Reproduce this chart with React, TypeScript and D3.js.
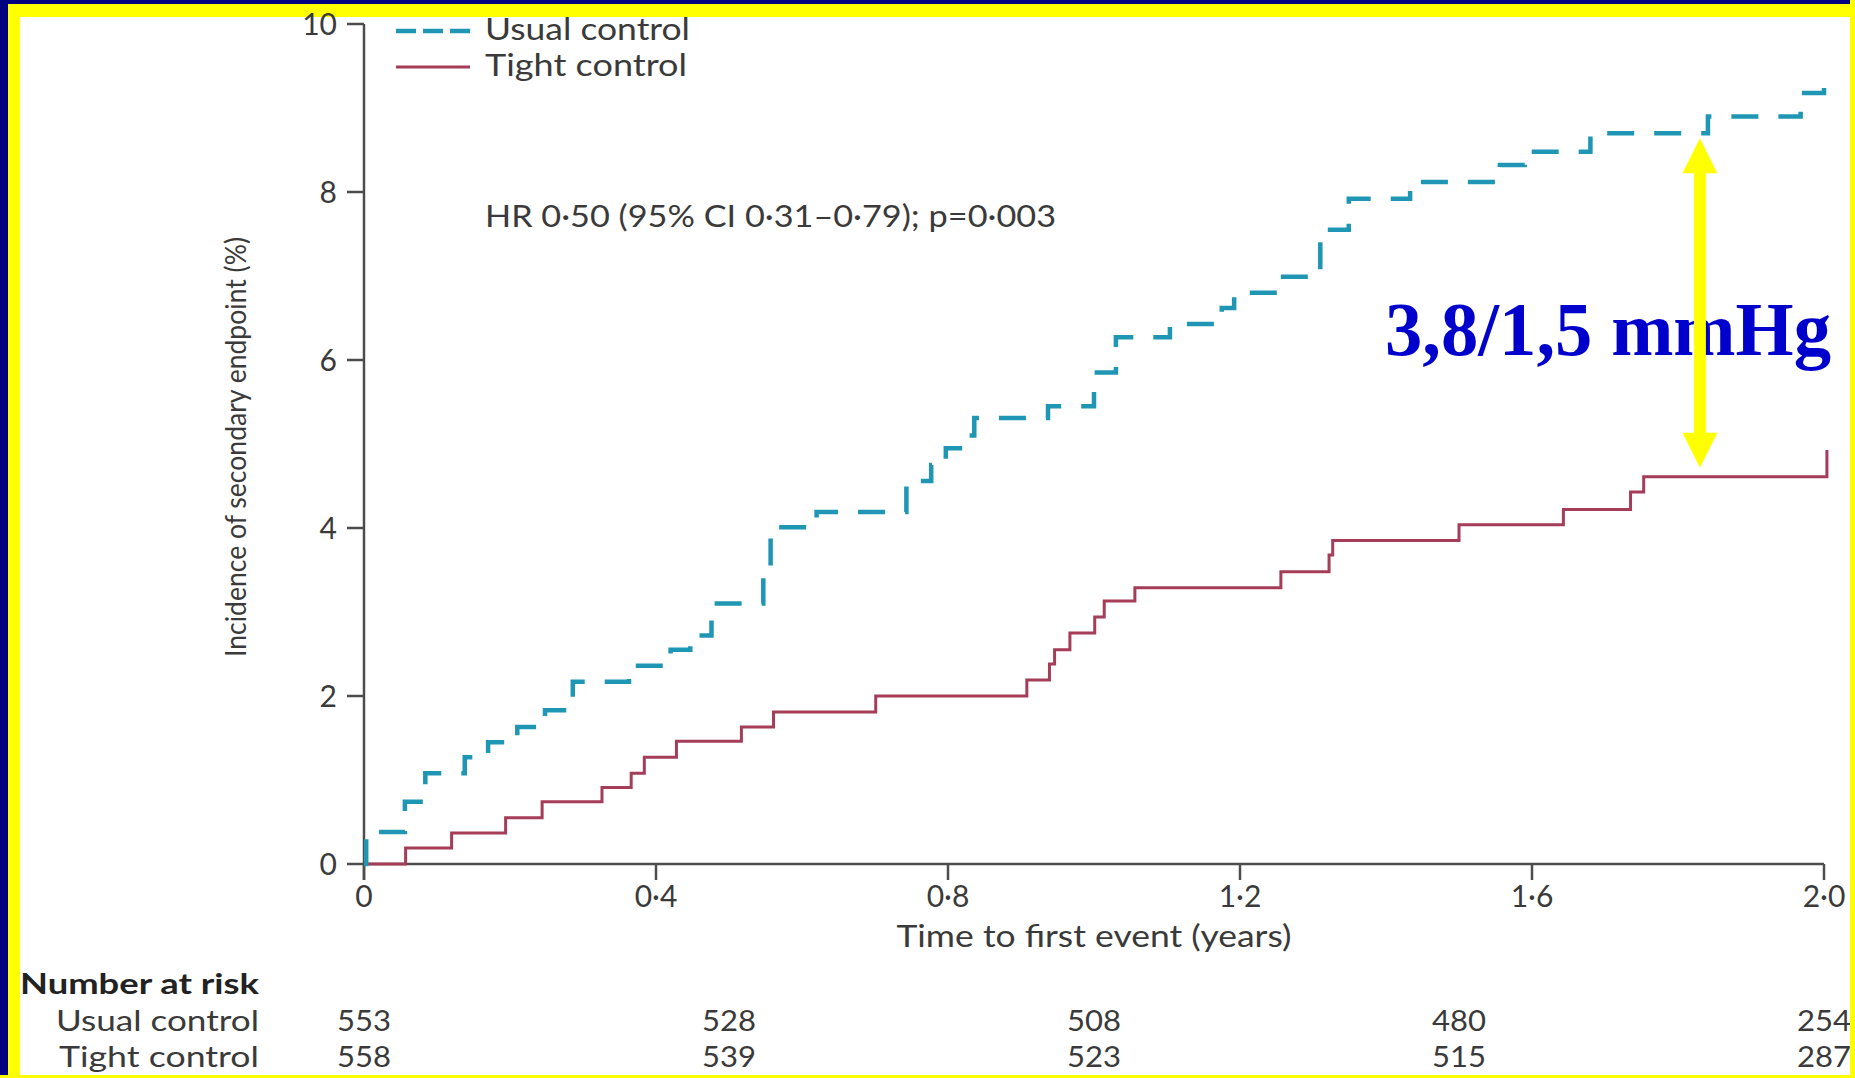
import React from 'react';
import * as d3 from 'd3';

// Kaplan–Meier style cumulative incidence (%) by time (years)
const usualControl: [number, number][] = [
  [0, 0], [0.003, 0.38], [0.056, 0.74], [0.084, 1.08], [0.138, 1.27], [0.17, 1.45],
  [0.21, 1.63], [0.248, 1.83], [0.286, 2.17], [0.363, 2.36], [0.42, 2.55], [0.447, 2.72],
  [0.476, 3.1], [0.547, 3.55], [0.557, 4.01], [0.62, 4.19], [0.743, 4.56], [0.777, 4.75],
  [0.797, 4.95], [0.822, 5.1], [0.836, 5.31], [0.937, 5.45], [1.0, 5.85], [1.03, 6.27],
  [1.104, 6.43], [1.175, 6.62], [1.192, 6.8], [1.252, 6.99], [1.31, 7.55], [1.349, 7.92],
  [1.433, 8.12], [1.556, 8.32], [1.59, 8.48], [1.68, 8.7], [1.841, 8.9], [1.968, 9.18],
  [2.0, 9.26],
];

const tightControl: [number, number][] = [
  [0, 0], [0.057, 0.19], [0.12, 0.37], [0.194, 0.55], [0.244, 0.74], [0.326, 0.91],
  [0.366, 1.08], [0.384, 1.27], [0.428, 1.46], [0.517, 1.63], [0.561, 1.81], [0.701, 2.0],
  [0.908, 2.19], [0.939, 2.38], [0.946, 2.55], [0.967, 2.75], [1.001, 2.94], [1.014, 3.13],
  [1.056, 3.29], [1.256, 3.48], [1.322, 3.68], [1.327, 3.85], [1.5, 4.04], [1.643, 4.22],
  [1.735, 4.43], [1.753, 4.61], [2.004, 4.93],
];

const yTicks = [0, 2, 4, 6, 8, 10];
const xTicks = [0, 0.4, 0.8, 1.2, 1.6, 2.0];
const xTickLabels = ['0', '0·4', '0·8', '1·2', '1·6', '2·0'];

const riskTimes = [0, 0.5, 1, 1.5, 2];
const riskUsual = [553, 528, 508, 480, 254];
const riskTight = [558, 539, 523, 515, 287];

const seriesNames = ['Usual control', 'Tight control'];
const hrText = 'HR 0·50 (95% CI 0·31–0·79); p=0·003';
const yTitle = 'Incidence of secondary endpoint (%)';
const xTitle = 'Time to first event (years)';
const riskTitle = 'Number at risk';

// difference annotation between the two curves
const gapLabel = '3,8/1,5 mmHg';
const gapTime = 1.83;
const gapUpper = 8.7;
const gapLower = 4.61;

const BLUE = '#1f96b4';
const RED = '#a63d58';
const AXIS = '#4d4d4d';
const TEXT = '#3a3a3a';
const FONT = "Lato, 'Open Sans', sans-serif";

export default function App() {
  const W = 1855;
  const H = 1078;
  const x = d3.scaleLinear().domain([0, 2]).range([364, 1824]);
  const y = d3.scaleLinear().domain([0, 10]).range([864, 24]);
  const step = d3
    .line<[number, number]>()
    .x((d) => x(d[0]))
    .y((d) => y(d[1]))
    .curve(d3.curveStepAfter);

  const x0 = x(0);
  const y0 = y(0);

  // yellow double-headed arrow
  const ax = x(gapTime);
  const aTop = y(gapUpper) + 5;
  const aBot = y(gapLower) - 9;
  const head = 35;
  const hw = 17.5;
  const sw = 6;
  const arrowPath = [
    `M${ax},${aTop}`,
    `L${ax + hw},${aTop + head}`,
    `L${ax + sw},${aTop + head}`,
    `L${ax + sw},${aBot - head}`,
    `L${ax + hw},${aBot - head}`,
    `L${ax},${aBot}`,
    `L${ax - hw},${aBot - head}`,
    `L${ax - sw},${aBot - head}`,
    `L${ax - sw},${aTop + head}`,
    `L${ax - hw},${aTop + head}`,
    'Z',
  ].join(' ');

  return (
    <svg
      width={W}
      height={H}
      style={{ position: 'absolute', left: 0, top: 0, display: 'block' }}
      fontFamily={FONT}
    >
      <rect width={W} height={H} fill="#000080" />
      <rect x={8} y={4} width={W - 8} height={H - 4} fill="#ffff00" />
      <rect x={20} y={17} width={1830} height={1058} fill="#ffffff" />

      {/* axes */}
      <line x1={x0} x2={x0} y1={y(10)} y2={y0 + 16} stroke={AXIS} strokeWidth={2.5} />
      <line x1={x0} x2={x(2)} y1={y0} y2={y0} stroke={AXIS} strokeWidth={2.5} />
      {yTicks.map((t) => (
        <g key={'y' + t}>
          <line x1={x0 - 17} x2={x0} y1={y(t)} y2={y(t)} stroke={AXIS} strokeWidth={2.5} />
          <text x={x0 - 27} y={y(t)} dy="0.36em" textAnchor="end" fontSize={30} fill={TEXT}>
            {t}
          </text>
        </g>
      ))}
      {xTicks.map((t, i) => (
        <g key={'x' + t}>
          <line x1={x(t)} x2={x(t)} y1={y0} y2={y0 + 16} stroke={AXIS} strokeWidth={2.5} />
          <text x={x(t)} y={907} textAnchor="middle" fontSize={30} fill={TEXT}>
            {xTickLabels[i]}
          </text>
        </g>
      ))}

      <text
        transform={`translate(246,447) rotate(-90)`}
        textAnchor="middle"
        fontSize={29}
        fill={TEXT}
        textLength={420}
        lengthAdjust="spacingAndGlyphs"
      >
        {yTitle}
      </text>
      <text
        x={x(1)}
        y={947}
        textAnchor="middle"
        fontSize={30}
        fill={TEXT}
        textLength={395}
        lengthAdjust="spacingAndGlyphs"
      >
        {xTitle}
      </text>

      {/* curves */}
      <path d={step(tightControl) || ''} fill="none" stroke={RED} strokeWidth={3} />
      <path
        d={step(usualControl) || ''}
        fill="none"
        stroke={BLUE}
        strokeWidth={4.5}
        strokeDasharray="27 20"
      />

      {/* legend */}
      <line x1={396} x2={470} y1={31} y2={31} stroke={BLUE} strokeWidth={4.5} strokeDasharray="20 7" />
      <line x1={396} x2={470} y1={67} y2={67} stroke={RED} strokeWidth={3} />
      <text x={485} y={40} fontSize={30} fill={TEXT} textLength={205} lengthAdjust="spacingAndGlyphs">
        {seriesNames[0]}
      </text>
      <text x={485} y={76} fontSize={30} fill={TEXT} textLength={202} lengthAdjust="spacingAndGlyphs">
        {seriesNames[1]}
      </text>

      <text x={485} y={227} fontSize={30} fill={TEXT} textLength={571} lengthAdjust="spacingAndGlyphs">
        {hrText}
      </text>

      {/* number at risk table */}
      <text x={20} y={994} fontSize={28} fontWeight="bold" fill="#222" textLength={239} lengthAdjust="spacingAndGlyphs">
        {riskTitle}
      </text>
      <text x={259} y={1031} textAnchor="end" fontSize={29} fill={TEXT} textLength={203} lengthAdjust="spacingAndGlyphs">
        {seriesNames[0]}
      </text>
      <text x={259} y={1067} textAnchor="end" fontSize={29} fill={TEXT} textLength={200} lengthAdjust="spacingAndGlyphs">
        {seriesNames[1]}
      </text>
      {riskTimes.map((t, i) => (
        <g key={'r' + t}>
          <text x={x(t)} y={1031} textAnchor="middle" fontSize={29} fill={TEXT} textLength={54} lengthAdjust="spacingAndGlyphs">
            {riskUsual[i]}
          </text>
          <text x={x(t)} y={1067} textAnchor="middle" fontSize={29} fill={TEXT} textLength={54} lengthAdjust="spacingAndGlyphs">
            {riskTight[i]}
          </text>
        </g>
      ))}

      {/* annotation */}
      <text
        x={1385}
        y={355}
        fontFamily="'Liberation Serif', 'Times New Roman', serif"
        fontWeight="bold"
        fontSize={76}
        fill="#0000cc"
        textLength={446}
        lengthAdjust="spacingAndGlyphs"
      >
        {gapLabel}
      </text>
      <path d={arrowPath} fill="#ffff00" />

      {/* right and bottom frame edges drawn over the clipped labels */}
      <rect x={1850} y={0} width={5} height={H} fill="#ffff00" />
      <rect x={0} y={1075} width={W} height={3} fill="#ffff00" />
    </svg>
  );
}
